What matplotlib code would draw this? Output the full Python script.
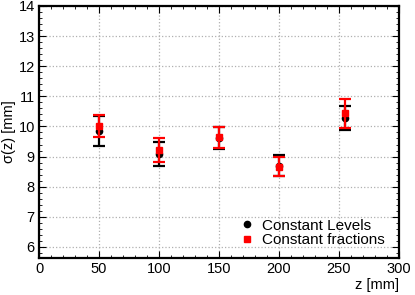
import matplotlib
matplotlib.use("Agg")
import matplotlib.pyplot as plt
from matplotlib.ticker import MultipleLocator

plt.rcParams['font.family'] = ['Liberation Sans', 'DejaVu Sans']

# data
z = [50, 100, 150, 200, 255]
sig_levels = [9.85, 9.10, 9.62, 8.70, 10.28]
err_levels = [0.50, 0.40, 0.36, 0.34, 0.39]
sig_fractions = [10.02, 9.22, 9.64, 8.67, 10.43]
err_fractions = [0.36, 0.39, 0.34, 0.33, 0.48]

fig = plt.figure(figsize=(4.15, 2.95), dpi=100)
ax = fig.add_axes([0.094, 0.125, 0.867, 0.855])

ax.errorbar(z, sig_levels, yerr=err_levels, fmt='o', color='black', ms=4.5,
            elinewidth=1.6, capsize=4, capthick=1.6, label='Constant Levels', zorder=3)
ax.errorbar(z, sig_fractions, yerr=err_fractions, fmt='s', color='red', ms=4.5,
            elinewidth=1.6, capsize=4, capthick=1.6, label='Constant fractions', zorder=4)

ax.set_xlim(0, 300)
ax.set_ylim(5.63, 14)
ax.xaxis.set_major_locator(MultipleLocator(50))
ax.xaxis.set_minor_locator(MultipleLocator(10))
ax.yaxis.set_major_locator(MultipleLocator(1))
ax.yaxis.set_minor_locator(MultipleLocator(0.2))
ax.tick_params(which='both', direction='in', top=True, right=True, labelsize=10.5, pad=3)
ax.tick_params(which='major', length=5)
ax.tick_params(which='minor', length=2.5)
ax.grid(True, which='major', linestyle=':', color='#b0b0b0', linewidth=0.9)
for s in ax.spines.values():
    s.set_linewidth(1.6)

ax.set_xlabel('z [mm]', fontsize=10.5, loc='right', labelpad=1)
ax.set_ylabel('σ(z) [mm]', fontsize=10.5, loc='center', labelpad=2)

hs, ls = ax.get_legend_handles_labels()
leg = ax.legend([h[0] for h in hs], ls, loc='lower right', frameon=False, fontsize=11,
                handlelength=0.8, handletextpad=0.6, labelspacing=0.05,
                borderpad=0, bbox_to_anchor=(0.982, 0.012))

fig.savefig('out.png', dpi=100)
